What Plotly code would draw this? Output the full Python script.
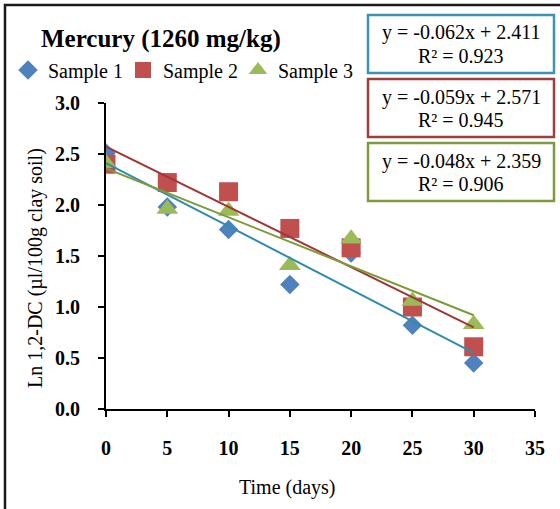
import plotly.graph_objects as go

# ---- data ----
days = [0, 5, 10, 15, 20, 25, 30]
sample1 = [2.51, 1.98, 1.76, 1.22, 1.53, 0.82, 0.45]
sample2 = [2.40, 2.22, 2.13, 1.77, 1.58, 1.00, 0.61]
sample3 = [2.41, 1.96, 1.94, 1.41, 1.67, 1.06, 0.83]
series_names = ["Sample 1", "Sample 2", "Sample 3"]
slopes = [-0.062, -0.059, -0.048]
intercepts = [2.411, 2.571, 2.359]
r2_values = [0.923, 0.945, 0.906]
x_ticks = [0, 5, 10, 15, 20, 25, 30, 35]
y_ticks = [0.0, 0.5, 1.0, 1.5, 2.0, 2.5, 3.0]

marker_colors = ["#4F81BD", "#C0504D", "#9BBB59"]
marker_symbols = ["diamond", "square", "triangle-up"]
marker_sizes = [15, 19, 19]
trend_colors = ["#2F8CAE", "#A03638", "#7C9C3A"]
box_colors = ["#3C93B3", "#A33C3C", "#7E9B3F"]

FONT = "Liberation Serif"
W, H = 560, 509
L, R, T, B = 106, 25, 103, 100
PW, PH = W - L - R, H - T - B


def px(x):
    return (x - L) / PW


def py(y):
    return (H - B - y) / PH


fig = go.Figure()
for name, ys, c, s, sz in zip(series_names, [sample1, sample2, sample3],
                              marker_colors, marker_symbols, marker_sizes):
    fig.add_trace(go.Scatter(
        x=days, y=ys, mode="markers", name=name,
        marker=dict(color=c, symbol=s, size=sz, line=dict(width=0)),
    ))

for m, b, c in zip(slopes, intercepts, trend_colors):
    xs = [days[0], days[-1]]
    fig.add_trace(go.Scatter(
        x=xs, y=[m * x + b for x in xs], mode="lines",
        line=dict(color=c, width=2), showlegend=False, hoverinfo="skip",
    ))

annotations = [
    dict(text="<b>Mercury (1260 mg/kg)</b>", x=px(39), y=py(39), xref="paper", yref="paper",
         xanchor="left", yanchor="middle", showarrow=False,
         font=dict(family=FONT, size=25, color="black")),
    dict(text="Ln 1,2-DC (µl/100g clay soil)", x=px(35), y=py(268), xref="paper", yref="paper",
         xanchor="center", yanchor="middle", textangle=-90, showarrow=False,
         font=dict(family=FONT, size=20, color="black")),
    dict(text="Time (days)", x=px(287), y=py(487), xref="paper", yref="paper",
         xanchor="center", yanchor="middle", showarrow=False,
         font=dict(family=FONT, size=20, color="black")),
]

shapes = [
    dict(type="rect", xref="paper", yref="paper", x0=px(5), x1=px(620), y0=py(5), y1=py(600),
         line=dict(color="#1a1a1a", width=2.5), fillcolor="rgba(0,0,0,0)"),
]

box_tops = [15, 79, 143]
for i, (m, b, r2, bc) in enumerate(zip(slopes, intercepts, r2_values, box_colors)):
    top = box_tops[i]
    shapes.append(dict(type="rect", xref="paper", yref="paper",
                       x0=px(368), x1=px(554), y0=py(top), y1=py(top + 58),
                       line=dict(color=bc, width=2.5), fillcolor="white", layer="above"))
    annotations.append(dict(text=f"y = {m:.3f}x + {b:.3f}", x=px(461), y=py(top + 18),
                            xref="paper", yref="paper", xanchor="center", yanchor="middle",
                            showarrow=False, font=dict(family=FONT, size=20, color="black")))
    annotations.append(dict(text=f"R² = {r2:.3f}", x=px(461), y=py(top + 41),
                            xref="paper", yref="paper", xanchor="center", yanchor="middle",
                            showarrow=False, font=dict(family=FONT, size=20, color="black")))

fig.update_layout(
    width=W, height=H,
    margin=dict(l=L, r=R, t=T, b=B, autoexpand=False),
    paper_bgcolor="white", plot_bgcolor="white",
    font=dict(family=FONT, size=20, color="black"),
    showlegend=True,
    legend=dict(orientation="h", xref="container", yref="container",
                x=8 / W, y=1 - 70 / H, xanchor="left", yanchor="middle",
                font=dict(family=FONT, size=20, color="black"),
                bgcolor="rgba(0,0,0,0)", entrywidth=70, itemwidth=30,
                tracegroupgap=0),
    xaxis=dict(range=[0, 35], tickvals=x_ticks, ticktext=[f"<b>{v}</b>" for v in x_ticks],
               showgrid=False, zeroline=False, showline=True, linecolor="black", linewidth=2,
               ticks="outside", ticklen=6, tickwidth=2, tickcolor="black",
               ticklabelstandoff=14, tickfont=dict(family=FONT, size=20, color="black")),
    yaxis=dict(range=[0, 3], tickvals=y_ticks, ticktext=[f"<b>{v:.1f}</b>" for v in y_ticks],
               showgrid=False, zeroline=False, showline=True, linecolor="black", linewidth=2,
               ticks="outside", ticklen=6, tickwidth=2, tickcolor="black",
               ticklabelstandoff=14, tickfont=dict(family=FONT, size=20, color="black")),
    annotations=annotations,
    shapes=shapes,
)

fig.write_html("out.html")
